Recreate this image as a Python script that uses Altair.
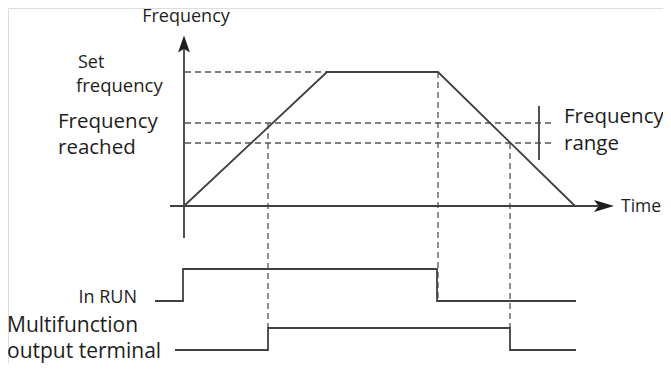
import altair as alt
import pandas as pd

# ---- data (time units on x, frequency / signal level units on y) ----
# frequency profile: accelerate, hold at set frequency, decelerate
curve_t = [0, 143, 254, 391]
curve_f = [0, 134, 134, 0]
# axes of the frequency graph
yaxis_t = [0, 0]
yaxis_f = [-32, 158]
xaxis_t = [-14, 414]
xaxis_f = [0, 0]
# "In RUN" digital signal
run_t = [-29, -1, -1, 253, 253, 392]
run_f = [-95, -95, -63, -63, -95, -95]
# "Multifunction output terminal" digital signal
mfo_t = [-9, 84, 84, 326, 326, 392]
mfo_f = [-144, -144, -122, -122, -144, -144]
# frequency range bracket
bracket_t = [355, 355]
bracket_f = [100, 46]

# dashed guide lines: (t, f) -> (t2, f2)
dash_t = [1, 1, 1, 84, 254, 326]
dash_f = [134, 83, 63, 83, 134, 63]
dash_t2 = [143, 368, 368, 84, 254, 326]
dash_f2 = [134, 83, 63, -122, -95, -122]

# labels
lab_text = ["Frequency", "Set", "frequency", "Frequency", "reached",
            "Multifunction", "output terminal", "Frequency", "range", "Time", "In RUN"]
lab_t = [2, -106, -108, -126, -126, -177, -177, 380, 380, 437, -47]
lab_f = [184, 138, 114, 78, 52, -126, -152, 83, 56, -6, -97]
lab_size = [18, 18, 18.5, 20.5, 20.5, 21, 21, 20.5, 20.5, 17.5, 18]
lab_align = ["center", "left", "left", "left", "left", "left", "left", "left", "left", "left", "right"]

XDOM = [-176, 479]
YDOM = [-157, 198]
FONT = "Open Sans"
LINE = "#404040"

xs = alt.Scale(domain=XDOM, nice=False, zero=False)
ys = alt.Scale(domain=YDOM, nice=False, zero=False)
X = alt.X("t:Q", scale=xs, axis=None)
Y = alt.Y("f:Q", scale=ys, axis=None)

rows = []
for name, ts, fs in [("curve", curve_t, curve_f), ("yaxis", yaxis_t, yaxis_f),
                     ("xaxis", xaxis_t, xaxis_f), ("run", run_t, run_f),
                     ("mfo", mfo_t, mfo_f), ("bracket", bracket_t, bracket_f)]:
    for i, (t, f) in enumerate(zip(ts, fs)):
        rows.append({"series": name, "i": i, "t": t, "f": f})
solid_df = pd.DataFrame(rows)

solid = alt.Chart(solid_df).mark_line(color=LINE, strokeWidth=1.8).encode(
    x=X, y=Y, detail="series:N", order="i:Q",
)

dash_df = pd.DataFrame({"t": dash_t, "f": dash_f, "t2": dash_t2, "f2": dash_f2})
dashed = alt.Chart(dash_df).mark_rule(color="#555555", strokeWidth=1.3, strokeDash=[6, 4]).encode(
    x=X, y=Y, x2="t2:Q", y2="f2:Q",
)

up_df = pd.DataFrame({"t": [0], "f": [162]})
up_arrow = alt.Chart(up_df).mark_point(
    shape="M0,-1 L0.7,1 L0,0.55 L-0.7,1 Z", size=289, filled=True, opacity=1,
    color="#1e1e1e", strokeWidth=0
).encode(x=X, y=Y)

right_df = pd.DataFrame({"t": [420], "f": [0]})
right_arrow = alt.Chart(right_df).mark_point(
    shape="M1,0 L-1,-0.6 L-0.55,0 L-1,0.6 Z", size=400, filled=True, opacity=1,
    color="#1e1e1e", strokeWidth=0
).encode(x=X, y=Y)

lab_df = pd.DataFrame({"text": lab_text, "t": lab_t, "f": lab_f, "size": lab_size, "align": lab_align})
texts = []
for al in ["left", "center", "right"]:
    sub = lab_df[lab_df["align"] == al]
    for sz in sorted(set(sub["size"])):
        d = sub[sub["size"] == sz]
        texts.append(alt.Chart(d).mark_text(
            align=al, baseline="alphabetic", font=FONT, fontSize=float(sz), color="#1e1e1e"
        ).encode(x=X, y=Y, text="text:N"))

chart = alt.layer(dashed, solid, up_arrow, right_arrow, *texts).properties(
    width=655, height=355, padding=0, autosize=alt.AutoSizeParams(type="none")
).configure_view(stroke=None).configure(background="white")

chart.save("out.html", embed_options={"renderer": "svg", "actions": False})
